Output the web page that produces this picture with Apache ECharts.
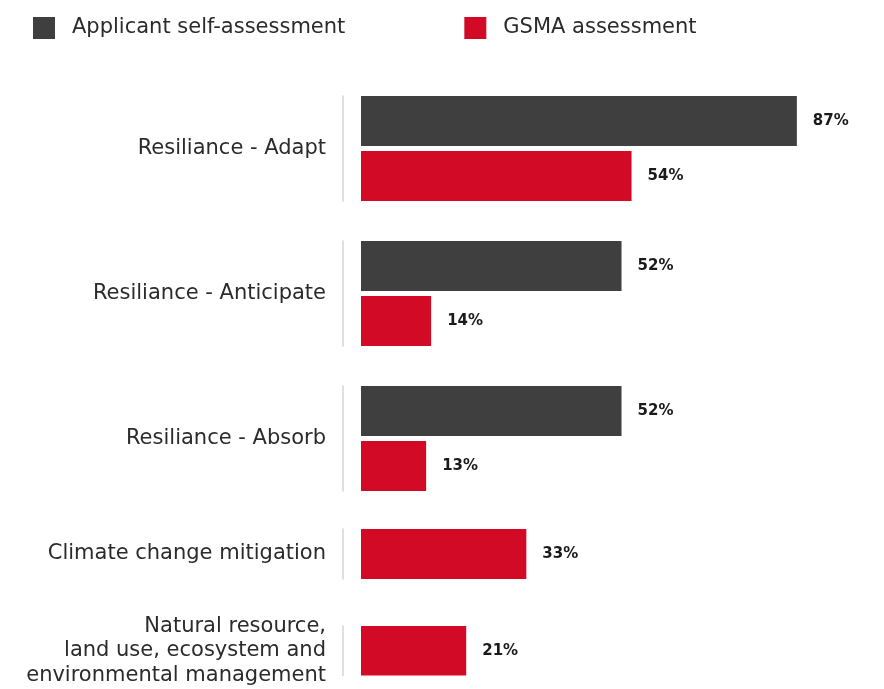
<!DOCTYPE html>
<html>
<head>
<meta charset="utf-8">
<script src="https://cdn.jsdelivr.net/npm/echarts@6/dist/echarts.min.js"></script>
<style>
  html, body { margin: 0; padding: 0; background: #ffffff; }
  #chart { width: 884px; height: 689px; }
</style>
</head>
<body>
<div id="chart"></div>
<script>
// Assessment categories, top to bottom
const categories = [
  'Resiliance - Adapt',
  'Resiliance - Anticipate',
  'Resiliance - Absorb',
  'Climate change mitigation',
  'Natural resource,\nland use, ecosystem and\nenvironmental management'
];
// Share of applicants (%) per category; null = not assessed
const applicantValues = [87, 52, 52, null, null];
const gsmaValues = [54, 14, 13, 33, 21];

const seriesNames = ['Applicant self-assessment', 'GSMA assessment'];
const colors = ['#3f3f3f', '#d30a26'];
const FONT = '"DejaVu Sans", sans-serif';

// Each category gets its own grid so groups can have one or two bars
const groupTops = [96, 241, 386, 529, 626];
const BAR = 50;

const grids = [], xAxes = [], yAxes = [], series = [];
categories.forEach((cat, i) => {
  const nBars = applicantValues[i] == null ? 1 : 2;
  grids.push({
    left: 361, right: 22, top: groupTops[i],
    height: nBars === 2 ? BAR * 2 + 5 : BAR,
    containLabel: false
  });
  xAxes.push({ type: 'value', gridIndex: i, min: 0, max: 100, show: false });
  yAxes.push({
    type: 'category', gridIndex: i, data: [cat], inverse: true, offset: 18,
    axisLine: { show: true, onZero: false, lineStyle: { color: '#d4d4d4', width: 1.5 } },
    axisTick: { show: false },
    axisLabel: {
      margin: 17, fontFamily: FONT, fontSize: 21, color: '#2b2b2b',
      lineHeight: 24.5, align: 'right', padding: [3, 0, 0, 0]
    }
  });
  const vals = [applicantValues[i], gsmaValues[i]];
  vals.forEach((v, s) => {
    if (v == null) return;
    series.push({
      name: seriesNames[s], type: 'bar', xAxisIndex: i, yAxisIndex: i,
      data: [v], barWidth: BAR, barGap: '10%',
      itemStyle: { color: colors[s] },
      label: {
        show: true, position: 'right', distance: 16,
        formatter: '{c}%', fontFamily: FONT, fontSize: 15,
        fontWeight: 'bold', color: '#1a1a1a'
      },
      silent: true, animation: false
    });
  });
});

const chart = echarts.init(document.getElementById('chart'));
chart.setOption({
  animation: false,
  backgroundColor: '#ffffff',
  legend: {
    data: seriesNames, left: 33, top: 17, padding: 0, icon: 'rect',
    itemWidth: 22, itemHeight: 22, itemGap: 119,
    textStyle: { fontFamily: FONT, fontSize: 21, color: '#2b2b2b', padding: [0, 0, 0, 12] },
    selectedMode: false
  },
  grid: grids,
  xAxis: xAxes,
  yAxis: yAxes,
  series: series
});
</script>
</body>
</html>
